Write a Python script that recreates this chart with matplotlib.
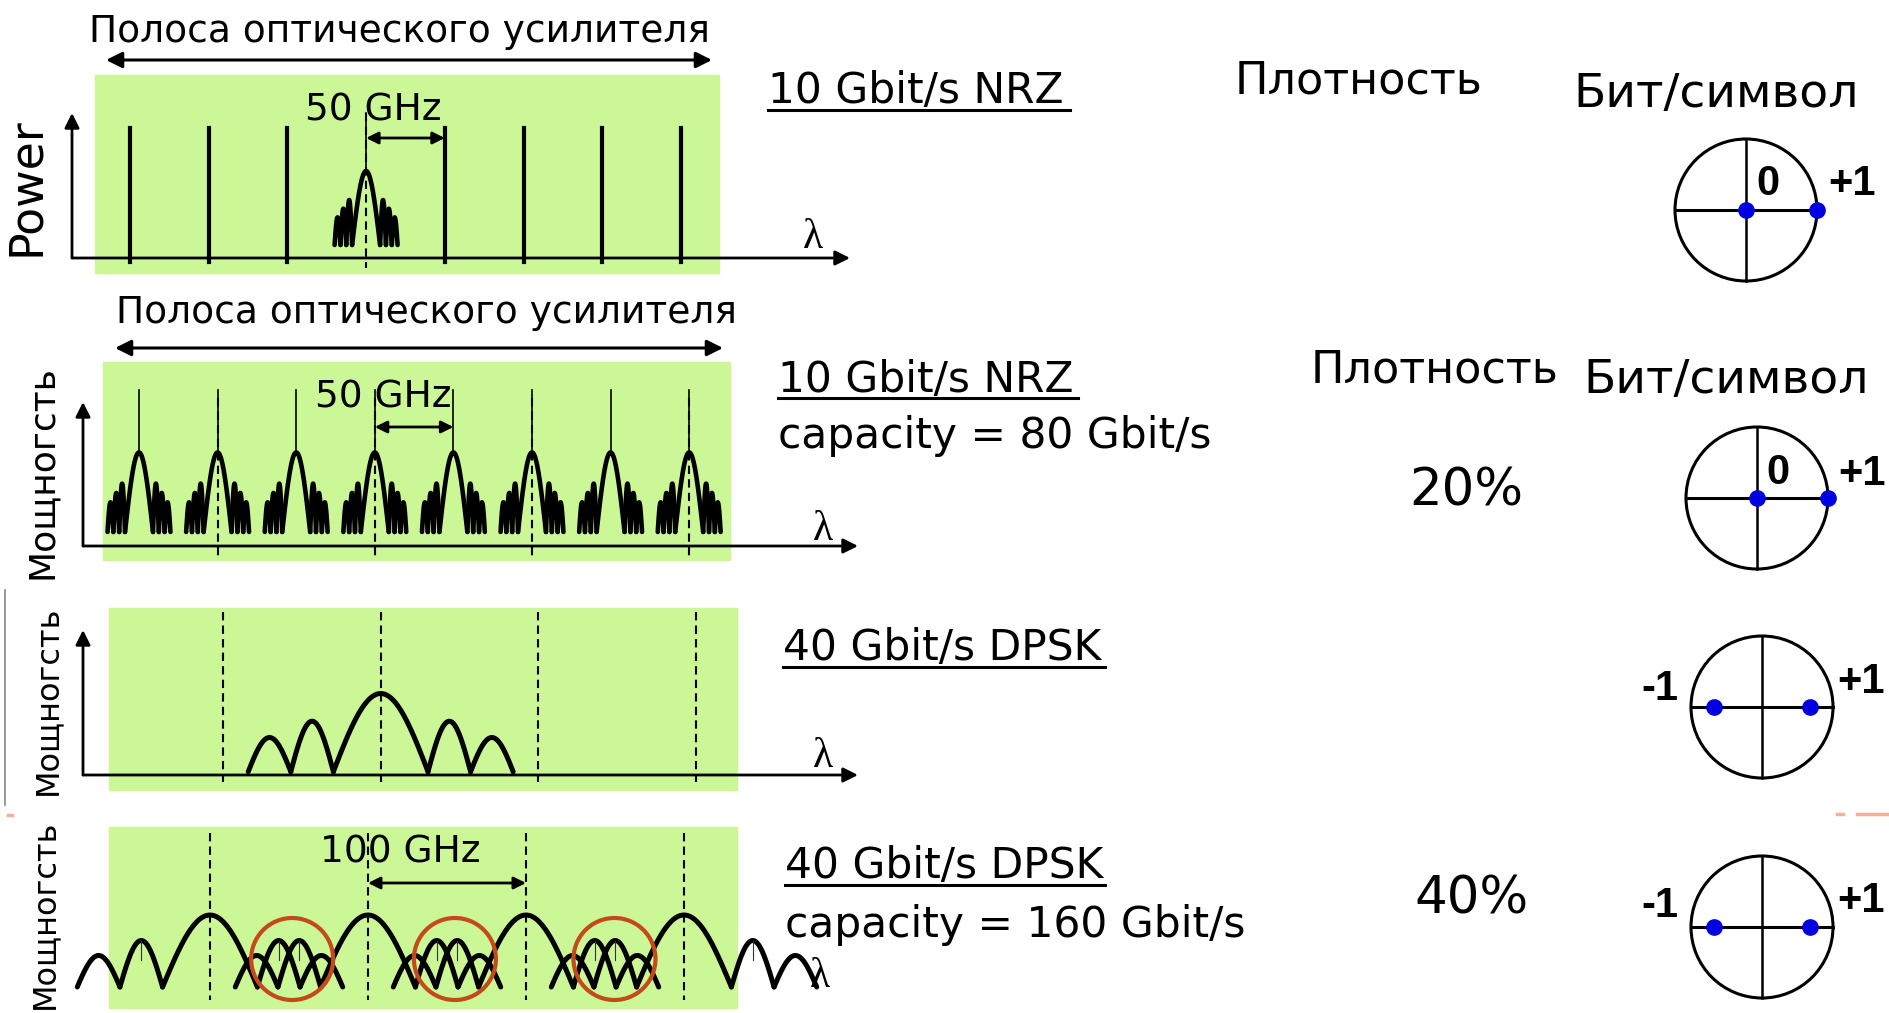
import matplotlib
matplotlib.use('Agg')
import matplotlib.pyplot as plt
import numpy as np
from matplotlib.patches import Rectangle, Circle

# ---- data ----
band_label = 'Полоса оптического усилителя'
axis_labels = ['Power', 'Мощногсть', 'Мощногсть', 'Мощногсть']
rate_labels = ['10 Gbit/s NRZ', '10 Gbit/s NRZ', '40 Gbit/s DPSK', '40 Gbit/s DPSK']
capacity_labels = ['', 'capacity = 80 Gbit/s', '', 'capacity = 160 Gbit/s']
density_head = 'Плотность'
bits_head = 'Бит/символ'
density_values = ['', '20%', '', '40%']
spacing_labels = ['50 GHz', '50 GHz', '', '100 GHz']

# channel grids in GHz
grid_50 = [0, 50, 100, 150, 200, 250, 300, 350]
grid_100 = [0, 100, 200, 300]
p1_carriers = [0, 50, 100, 200, 250, 300, 350]
p1_modulated = [150]
p2_dashed = [50, 150, 250, 350]
p3_modulated = [100]
crosstalk_ghz = [52, 155, 256]

# spectral lobes: (start GHz, end GHz, peak level), levels relative to panel height
nrz_lobes = [(-20.0, -16.3, 0.28), (-16.3, -12.6, 0.34), (-12.6, -8.9, 0.40),
             (-8.9, 8.9, 0.60),
             (8.9, 12.6, 0.40), (12.6, 16.3, 0.34), (16.3, 20.0, 0.28)]
nrz_floor = 0.09
nrz_carrier = 1.0
dpsk_lobes = [(-84, -57, 0.23), (-57, -30, 0.33), (-30, 30, 0.50),
              (30, 57, 0.33), (57, 84, 0.23)]
dpsk_floor = 0.02
carrier_level = 0.9

# constellation points (fraction of circle radius) and labels
const_points = [[0, 1.0], [0, 1.0], [-0.68, 0.68], [-0.68, 0.68]]
const_labels = [['0', '+1'], ['0', '+1'], ['-1', '+1'], ['-1', '+1']]

# ---- layout (pixels, y down) ----
GREEN = '#ccf796'
SANS = 'DejaVu Sans'
ARIAL = 'Liberation Sans'
SERIF = 'Liberation Serif'

# x0, px per GHz, baseline y, px per unit level
panels = [dict(x0=130, kx=1.574, y0=258, ky=145),
          dict(x0=139, kx=1.572, y0=546, ky=156),
          dict(x0=223, kx=1.577, y0=775, ky=163),
          dict(x0=210, kx=1.580, y0=990, ky=150)]
greens = [(95, 75, 719, 273), (103, 362, 730, 560), (109, 608, 737, 790), (109, 827, 737, 1008)]

fig = plt.figure(figsize=(18.9, 10.13), dpi=100)
ax = fig.add_axes([0, 0, 1, 1])
ax.set_xlim(0, 1890)
ax.set_ylim(1013, 0)
ax.axis('off')


def X(p, f):
    return p['x0'] + np.asarray(f, dtype=float) * p['kx']


def Y(p, v):
    return p['y0'] - np.asarray(v, dtype=float) * p['ky']


def arrow(x0, y0, x1, y1, style='-|>', lw=2, ms=22):
    ax.annotate('', xy=(x1, y1), xytext=(x0, y0),
                arrowprops=dict(arrowstyle=style, lw=lw, color='black',
                                mutation_scale=ms, shrinkA=0, shrinkB=0))


def lobes(p, c, shape, floor, lw=3.3):
    for f0, f1, top in shape:
        t = np.linspace(0, 1, 40)
        ax.plot(X(p, c + f0 + (f1 - f0) * t), Y(p, floor + (top - floor) * np.sin(np.pi * t)),
                color='black', lw=lw, solid_capstyle='round', zorder=4)


def dashed(p, f, v0, v1):
    ax.plot([X(p, f), X(p, f)], [Y(p, v0), Y(p, v1)], color='black', lw=1.5,
            ls=(0, (4, 2.5)), zorder=3)


for (x0, y0, x1, y1) in greens:
    ax.add_patch(Rectangle((x0, y0), x1 - x0, y1 - y0, color=GREEN, zorder=0))

# amplifier band titles
ax.text(399, 42, band_label, fontsize=27, family=SANS, ha='center', va='baseline')
arrow(106, 60, 712, 60, style='<|-|>', lw=2.2, ms=24)
ax.text(426, 323, band_label, fontsize=27, family=SANS, ha='center', va='baseline')
arrow(115, 348, 723, 348, style='<|-|>', lw=2.2, ms=24)

# axes
arrow(72, 258, 72, 113)
arrow(72, 258, 850, 258)
arrow(83, 546, 83, 402)
arrow(83, 546, 858, 546)
arrow(83, 775, 83, 630)
arrow(83, 775, 858, 775)
for lx, ly in [(813, 248), (823, 540), (823, 767), (820, 987)]:
    ax.text(lx, ly, 'λ', fontsize=30, family=SERIF, ha='center', va='baseline', zorder=5)

# y axis labels
for (lx, ly, fs), lab in zip([(26, 187, 33), (42, 472, 26), (48, 700, 23), (45, 914, 23)], axis_labels):
    ax.text(lx, ly, lab, rotation=90, fontsize=fs, family=SANS, ha='center', va='center')

# panel 1: carriers + one modulated NRZ channel
p = panels[0]
for f in p1_carriers:
    ax.plot([X(p, f)] * 2, [Y(p, carrier_level), Y(p, -0.03)], color='black', lw=3)
for f in p1_modulated:
    dashed(p, f, nrz_carrier, -0.07)
    ax.plot([X(p, f)] * 2, [Y(p, nrz_carrier), Y(p, 0.6)], color='black', lw=1.2)
    lobes(p, f, nrz_lobes, nrz_floor)
ax.text(373, 120, spacing_labels[0], fontsize=27, family=SANS, ha='center', va='baseline')
arrow(X(p, 150), 138, X(p, 200), 138, style='<|-|>', lw=2, ms=18)

# panel 2: eight NRZ channels
p = panels[1]
for f in p2_dashed:
    dashed(p, f, 0.95, -0.077)
for f in grid_50:
    ax.plot([X(p, f)] * 2, [Y(p, nrz_carrier), Y(p, 0.6)], color='black', lw=1.2)
    lobes(p, f, nrz_lobes, nrz_floor)
ax.text(383, 407, spacing_labels[1], fontsize=27, family=SANS, ha='center', va='baseline')
arrow(X(p, 150), 427, X(p, 200), 427, style='<|-|>', lw=2, ms=18)

# panel 3: one DPSK channel
p = panels[2]
for f in grid_100:
    dashed(p, f, 1.0, -0.043)
for f in p3_modulated:
    lobes(p, f, dpsk_lobes, dpsk_floor, lw=3.6)

# panel 4: four DPSK channels on 100 GHz grid
p = panels[3]
for f in grid_100:
    dashed(p, f, 1.05, -0.067)
for f in grid_100:
    lobes(p, f, dpsk_lobes, dpsk_floor, lw=3.6)
    for s in (-1, 1):
        xc = X(p, f + s * 43.5)
        ax.plot([xc, xc], [Y(p, 0.33), Y(p, 0.2)], color='#333333', lw=0.8, zorder=4)
for f in crosstalk_ghz:
    ax.add_patch(Circle((X(p, f), 959), 41, fill=False, ec='#c44a1c', lw=3, zorder=6))
ax.text(400, 862, spacing_labels[3], fontsize=27, family=SANS, ha='center', va='baseline')
arrow(X(p, 100), 883, X(p, 200), 883, style='<|-|>', lw=2, ms=18)

# rate / capacity texts
rate_pos = [(768, 103, 110, 1070), (778, 392, 398, 1078), (783, 660, 667, 1105), (785, 878, 885, 1105)]
for (tx, ty, uy, ux), lab in zip(rate_pos, rate_labels):
    ax.text(tx, ty, lab, fontsize=30.5, family=SANS, ha='left', va='baseline')
    ax.plot([tx, ux], [uy, uy], color='black', lw=2.2)
for (tx, ty), lab in zip([(0, 0), (778, 448), (0, 0), (785, 937)], capacity_labels):
    if lab:
        ax.text(tx, ty, lab, fontsize=30.5, family=SANS, ha='left', va='baseline')

# right column headers and densities
ax.text(1235, 93, density_head, fontsize=32, family=SANS, ha='left', va='baseline')
ax.text(1573, 107, bits_head, fontsize=34, family=SANS, ha='left', va='baseline')
ax.text(1311, 382, density_head, fontsize=32, family=SANS, ha='left', va='baseline')
ax.text(1583, 393, bits_head, fontsize=34, family=SANS, ha='left', va='baseline')
for (tx, ty), lab in zip([(0, 0), (1466, 505), (0, 0), (1472, 913)], density_values):
    if lab:
        ax.text(tx, ty, lab, fontsize=37, family=SANS, ha='center', va='baseline')

# constellation diagrams
centers = [(1746, 210), (1757, 498), (1762, 707), (1762, 927)]
label_pos = [[(1768, 195), (1852, 195)], [(1778, 484), (1862, 485)],
             [(1660, 700), (1861, 693)], [(1660, 917), (1861, 912)]]
R = 71
for (cx, cy), pts, labs, lpos in zip(centers, const_points, const_labels, label_pos):
    ax.add_patch(Circle((cx, cy), R, fill=False, ec='black', lw=2.2, zorder=5))
    ax.plot([cx - R, cx + R], [cy, cy], color='black', lw=2.2, zorder=5)
    ax.plot([cx, cx], [cy - R, cy + R], color='black', lw=1.8, zorder=5)
    ax.plot([cx + v * R for v in pts], [cy] * len(pts), 'o', color='#0000e0', ms=11, zorder=6)
    for (lx, ly), lab in zip(lpos, labs):
        ax.text(lx, ly, lab, fontsize=30, family=ARIAL, weight='bold', ha='center',
                va='baseline', zorder=7)

# slide leftovers
ax.plot([5, 5], [590, 805], color='#888888', lw=1.2)
ax.plot([1837, 1843], [814, 814], color='#f4b09a', lw=2.5)
ax.plot([1857, 1890], [814, 814], color='#f4b09a', lw=2.5)
ax.plot([8, 12], [815, 815], color='#f4b09a', lw=2.5)

fig.savefig('out.png', dpi=100, facecolor='white')
